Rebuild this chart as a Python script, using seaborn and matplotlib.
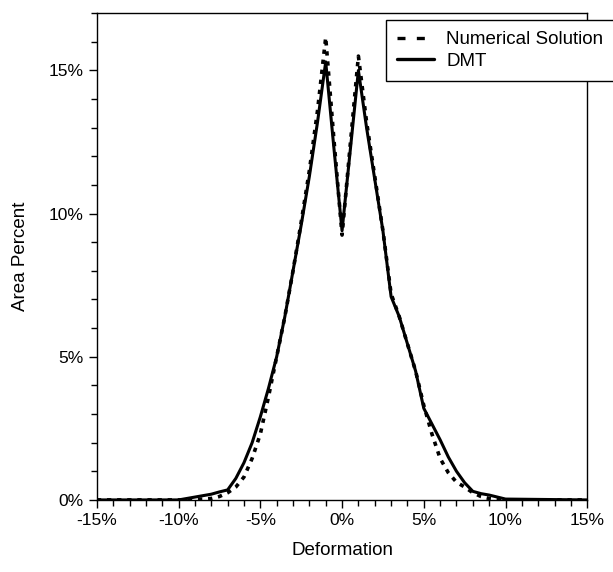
import matplotlib
matplotlib.use('Agg')
import matplotlib.pyplot as plt
from matplotlib.ticker import MultipleLocator, PercentFormatter
import seaborn as sns

# deformation (%) and area percent (%)
deformation = [-15, -10, -9.5, -9, -8.5, -8, -7.5, -7, -6.5, -6, -5.5, -5, -4.5, -4,
               -3.5, -3, -2.5, -2, -1.5, -1, -0.5, 0, 0.5, 1, 1.5, 2, 2.5, 3, 3.5,
               4, 4.5, 5, 5.5, 6, 6.5, 7, 7.5, 8, 8.5, 9, 9.5, 10, 15]
numerical = [0, 0, 0, 0.02, 0.03, 0.05, 0.12, 0.25, 0.45, 0.8, 1.45, 2.3, 3.6, 5.0,
             6.4, 8.0, 9.7, 11.5, 13.6, 16.15, 12.6, 9.25, 12.4, 15.5, 13.2, 11.3, 9.4, 7.2, 6.4,
             5.45, 4.5, 3.3, 2.3, 1.45, 0.95, 0.62, 0.45, 0.25, 0.12, 0.05, 0.02, 0, 0]
dmt = [0, 0, 0.05, 0.1, 0.15, 0.2, 0.28, 0.35, 0.75, 1.3, 2.0, 2.9, 3.9, 5.0,
       6.4, 8.0, 9.6, 11.3, 13.2, 15.3, 12.3, 9.4, 12.2, 15.0, 13.0, 11.2, 9.4, 7.1, 6.4,
       5.45, 4.5, 3.2, 2.65, 2.1, 1.5, 1.0, 0.6, 0.3, 0.22, 0.17, 0.1, 0.03, 0]

sns.set_style('ticks')
plt.rcParams['font.family'] = ['Liberation Sans', 'DejaVu Sans']
plt.rcParams['axes.unicode_minus'] = False
plt.rcParams['text.color'] = 'black'
plt.rcParams['axes.labelcolor'] = 'black'
plt.rcParams['xtick.color'] = 'black'
plt.rcParams['ytick.color'] = 'black'

fig = plt.figure(figsize=(6.13, 5.72), dpi=100)
ax = fig.add_axes([0.158, 0.126, 0.8, 0.851])

sns.lineplot(x=deformation, y=numerical, ax=ax, color='black', linewidth=2.6,
             linestyle=(0, (1.2, 1.6)), label='Numerical Solution')
sns.lineplot(x=deformation, y=dmt, ax=ax, color='black', linewidth=2.2,
             label='DMT')

ax.set_xlim(-15, 15)
ax.set_ylim(0, 17)
ax.xaxis.set_major_locator(MultipleLocator(5))
ax.xaxis.set_minor_locator(MultipleLocator(1))
ax.yaxis.set_major_locator(MultipleLocator(5))
ax.yaxis.set_minor_locator(MultipleLocator(1))
ax.xaxis.set_major_formatter(PercentFormatter(decimals=0))
ax.yaxis.set_major_formatter(PercentFormatter(decimals=0))
ax.tick_params(which='major', direction='out', length=6, width=1, labelsize=12.5,
               color='black', labelcolor='black')
ax.tick_params(which='minor', direction='out', length=4, width=1, color='black')
for s in ax.spines.values():
    s.set_color('black')
    s.set_linewidth(1)

ax.set_xlabel('Deformation', fontsize=13.5, labelpad=10)
ax.set_ylabel('Area Percent', fontsize=13.5, labelpad=14)

ax.legend(handles=[plt.Line2D([], [], color='black', lw=2.4, linestyle=(0, (2.4, 3.4))),
                   plt.Line2D([], [], color='black', lw=2.4)],
          labels=['Numerical Solution', 'DMT'],
          loc='upper left', bbox_to_anchor=(0.63, 0.965), bbox_transform=fig.transFigure,
          fontsize=13.5, frameon=True, fancybox=False, framealpha=1, edgecolor='black',
          borderpad=0.6, labelspacing=0.22, handlelength=1.95, handletextpad=0.65,
          borderaxespad=0)

fig.savefig('out.png', dpi=100)
